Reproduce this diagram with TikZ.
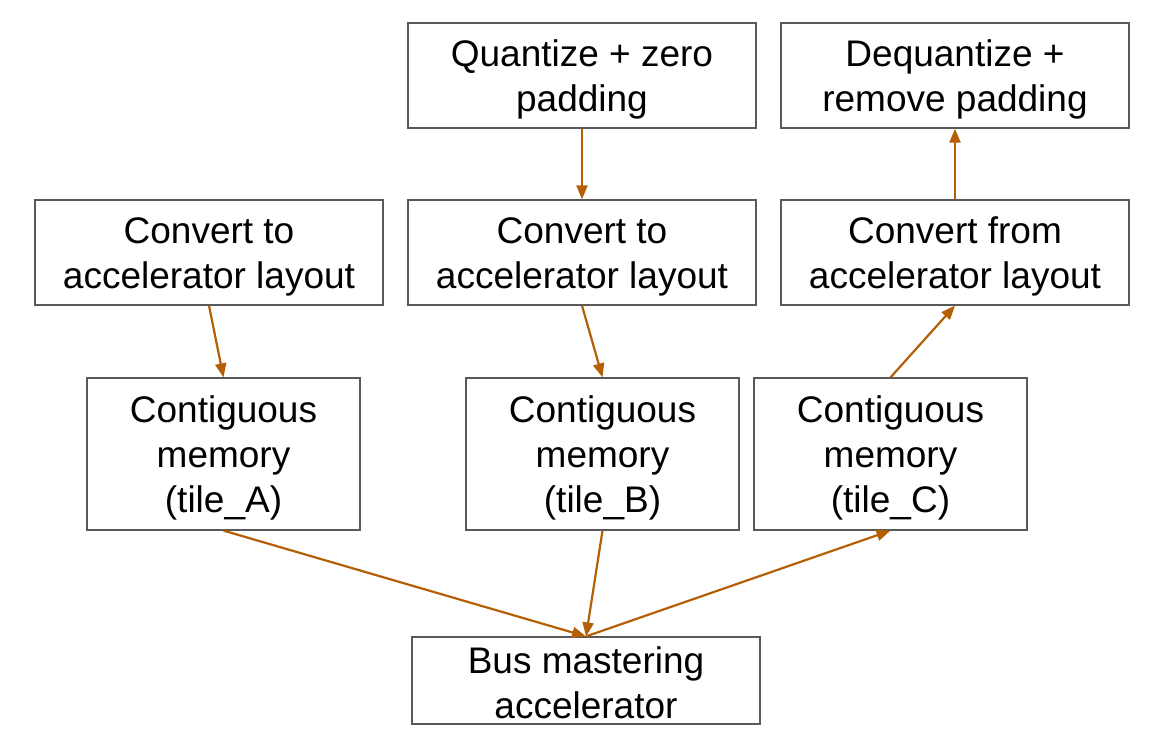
\documentclass[tikz,border=0pt]{standalone}
\usepackage{fontspec}
\setmainfont{Liberation Sans}
\usetikzlibrary{arrows.meta}
\definecolor{arr}{HTML}{B45F06}
\definecolor{bord}{HTML}{595959}
\begin{document}
\begin{tikzpicture}[x=1pt,y=-1pt,
  box/.style={draw=bord,line width=1.2pt,inner sep=0pt},
  txt/.style={inner sep=0pt,align=center,yshift=-4pt,font=\fontsize{37}{45}\selectfont},
  w348/.style={minimum width=348pt,minimum height=105pt},
  mem/.style={minimum width=273pt,minimum height=152pt},
  conn/.style={draw=arr,line width=2.2pt,-{Triangle[length=14pt,width=11pt]}}]
\useasboundingbox (0,0) rectangle (1165,754);
\node[box,w348,label={[txt]center:{Quantize + zero\\padding}}] (Q) at (582,75.5) {};
\node[box,w348,label={[txt]center:{Dequantize +\\remove padding}}] (D) at (955,75.5) {};
\node[box,w348,label={[txt]center:{Convert to\\accelerator layout}}] (CA) at (209,252.5) {};
\node[box,w348,label={[txt]center:{Convert to\\accelerator layout}}] (CB) at (582,252.5) {};
\node[box,w348,label={[txt]center:{Convert from\\accelerator layout}}] (CF) at (955,252.5) {};
\node[box,mem,label={[txt]center:{Contiguous\\memory\\(tile\_A)}}] (MA) at (223.5,454) {};
\node[box,mem,label={[txt]center:{Contiguous\\memory\\(tile\_B)}}] (MB) at (602.5,454) {};
\node[box,mem,label={[txt]center:{Contiguous\\memory\\(tile\_C)}}] (MC) at (890.5,454) {};
\node[box,minimum width=348pt,minimum height=87pt,label={[txt,yshift=2pt]center:{Bus mastering\\accelerator}}] (Bus) at (586,680.5) {};
\draw[conn] (Q.south) -- (CB.north);
\draw[conn] (CA.south) -- (MA.north);
\draw[conn] (CB.south) -- (MB.north);
\draw[conn] (MC.north) -- (CF.south);
\draw[conn] (CF.north) -- (D.south);
\draw[conn] (MA.south) -- (Bus.north);
\draw[conn] (MB.south) -- (Bus.north);
\draw[conn] (Bus.north) -- (MC.south);
\end{tikzpicture}
\end{document}
